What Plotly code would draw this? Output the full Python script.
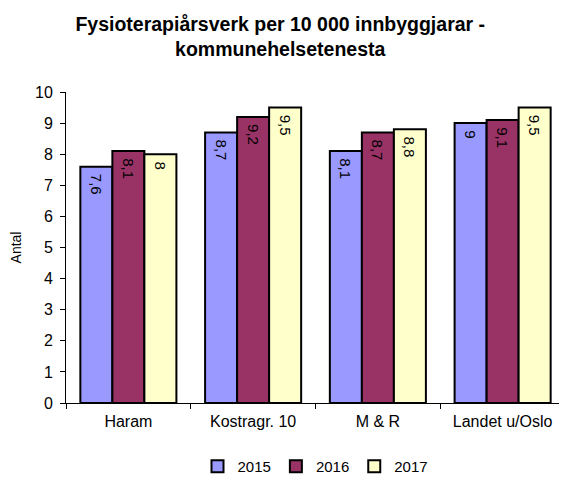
import plotly.graph_objects as go

# Data
kategoriar = ["Haram", "Kostragr. 10", "M & R", "Landet u/Oslo"]
aar_2015 = [7.6, 8.7, 8.1, 9.0]
aar_2016 = [8.1, 9.2, 8.7, 9.1]
aar_2017 = [8.0, 9.5, 8.8, 9.5]

serier = [
    ("2015", aar_2015, "#9999FF"),
    ("2016", aar_2016, "#993366"),
    ("2017", aar_2017, "#FFFFCC"),
]


def etikett(v):
    # Norwegian decimal comma, no trailing ,0; nbsp pushes label a bit below bar top
    return "\u00a0" + f"{v:g}".replace(".", ",")


fig = go.Figure()

for namn, verdiar, farge in serier:
    fig.add_trace(go.Bar(
        x=kategoriar,
        y=verdiar,
        name=namn,
        marker=dict(color=farge, line=dict(color="black", width=2)),
        text=[etikett(v) for v in verdiar],
        textposition="inside",
        insidetextanchor="end",
        textangle=90,
        constraintext="none",
        insidetextfont=dict(color="black", size=15),
    ))

# page body has an 8px margin, so the figure is 8px smaller than the window
fig.update_layout(
    width=559,
    height=475,
    font=dict(family="Liberation Sans, Arial, sans-serif", size=16, color="black"),
    title=dict(
        text="<b>Fysioterapiårsverk per 10 000 innbyggjarar -<br>kommunehelsetenesta</b>",
        font=dict(size=19.5),
        x=0.487,
        xanchor="center",
        y=0.952,
        yanchor="top",
    ),
    barmode="group",
    bargap=0.23,
    bargroupgap=0,
    plot_bgcolor="white",
    paper_bgcolor="white",
    margin=dict(l=58, r=2, t=84, b=80),
    xaxis=dict(
        showline=True,
        linecolor="black",
        linewidth=1,
        ticks="outside",
        tickson="boundaries",
        ticklen=5,
        tickcolor="black",
        ticklabelstandoff=4,
        showgrid=False,
        automargin=False,
    ),
    yaxis=dict(
        title=dict(text="Antal", standoff=14, font=dict(size=14)),
        range=[0, 10],
        dtick=1,
        showline=True,
        linecolor="black",
        linewidth=1,
        ticks="outside",
        ticklen=5,
        tickcolor="black",
        ticklabelstandoff=4,
        showgrid=False,
        zeroline=False,
        automargin=False,
    ),
    legend=dict(
        orientation="h",
        x=0.5,
        xanchor="center",
        yref="container",
        y=0.0,
        yanchor="bottom",
        font=dict(size=15),
        itemwidth=30,
        tracegroupgap=0,
    ),
    showlegend=True,
)

fig.write_html("out.html")
